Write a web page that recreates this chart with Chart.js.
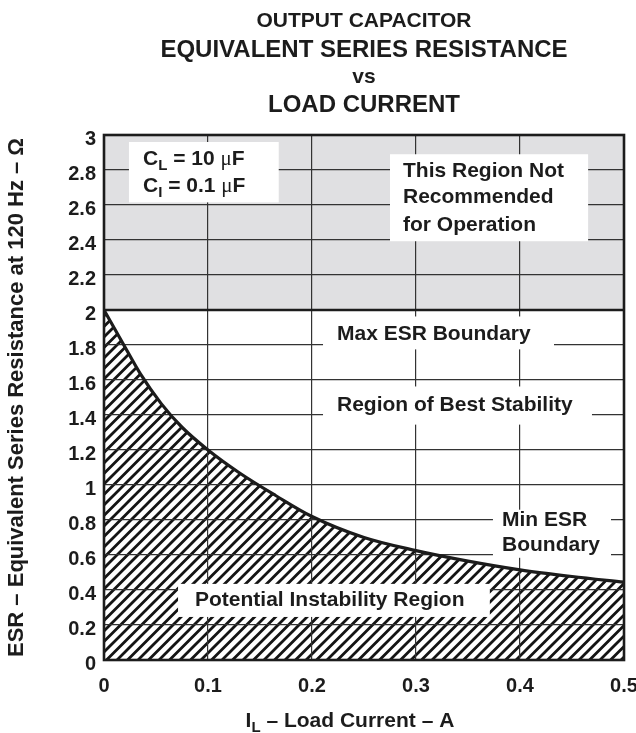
<!DOCTYPE html>
<html><head><meta charset="utf-8">
<script src="https://cdn.jsdelivr.net/npm/chart.js@4.4.0/dist/chart.umd.min.js"></script>
<style>html,body{margin:0;padding:0;background:#fff;}#wrap{width:636px;height:733px;}</style>
</head><body><div id="wrap"><canvas id="c" width="636" height="733"></canvas></div>
<script>
// ---- data ----
const loadCurrent = [0, 0.02, 0.035, 0.055, 0.075, 0.1, 0.13, 0.165, 0.2, 0.25, 0.3, 0.35, 0.4, 0.45, 0.5];
const minEsr      = [2.0, 1.79, 1.635, 1.465, 1.33, 1.20, 1.07, 0.94, 0.82, 0.70, 0.625, 0.565, 0.515, 0.477, 0.445];
const maxEsrBoundary = 2;
const esrAxisMax = 3;
const currentAxisMax = 0.5;
const xTickLabels = ['0', '0.1', '0.2', '0.3', '0.4', '0.5'];
const yTickLabels = ['0', '0.2', '0.4', '0.6', '0.8', '1', '1.2', '1.4', '1.6', '1.8', '2', '2.2', '2.4', '2.6', '2.8', '3'];
const titleLines = ['OUTPUT CAPACITOR', 'EQUIVALENT SERIES RESISTANCE', 'vs', 'LOAD CURRENT'];
const yAxisTitle = 'ESR – Equivalent Series Resistance at 120 Hz – Ω';
const xAxisTitleMain = 'I';
const xAxisTitleSub = 'L';
const xAxisTitleRest = ' – Load Current – A';
const notRecommendedLines = ['This Region Not', 'Recommended', 'for Operation'];
const maxEsrLabel = 'Max ESR Boundary';
const bestStabilityLabel = 'Region of Best Stability';
const minEsrLines = ['Min ESR', 'Boundary'];
const instabilityLabel = 'Potential Instability Region';
const capLines = [['C', 'L', ' = 10 ', 'μ', 'F'], ['C', 'I', ' = 0.1 ', 'μ', 'F']];

// ---- styles ----
const FAM = '"Liberation Sans", Arial, Helvetica, sans-serif';
const INK = '#1c1c1c';

function hatchPattern() {
  const T = 21;
  const c = document.createElement('canvas');
  c.width = T; c.height = T;
  const g = c.getContext('2d');
  g.strokeStyle = '#141414';
  g.lineWidth = 2.8;
  g.beginPath();
  for (const k of [0, 10.5, 21, 31.5, 42]) {
    g.moveTo(k + 3, -3);
    g.lineTo(-3, k + 3);
  }
  g.stroke();
  return g.createPattern(c, 'repeat');
}

function rich(ctx, segs, x, y) {
  let cx = x;
  for (const s of segs) {
    ctx.font = s.font;
    ctx.fillText(s.t, cx, y + (s.dy || 0));
    cx += ctx.measureText(s.t).width;
  }
  return cx - x;
}
function richWidth(ctx, segs) {
  let w = 0;
  for (const s of segs) { ctx.font = s.font; w += ctx.measureText(s.t).width; }
  return w;
}

const B = sz => `bold ${sz}px ${FAM}`;

const overlay = {
  id: 'overlay',
  afterDraw(chart) {
    const ctx = chart.ctx;
    const xs = chart.scales.x, ys = chart.scales.y;
    const px = v => xs.getPixelForValue(v), py = v => ys.getPixelForValue(v);
    const ca = chart.chartArea;
    ctx.save();
    // title
    ctx.fillStyle = INK;
    ctx.textAlign = 'center';
    ctx.textBaseline = 'alphabetic';
    const cx = (ca.left + ca.right) / 2;
    const tSizes = [21, 24, 21, 24];
    const tBase = [27, 57, 83, 112];
    titleLines.forEach((t, i) => { ctx.font = B(tSizes[i]); ctx.fillText(t, cx, tBase[i]); });

    // x axis title
    ctx.textAlign = 'left';
    const xt = [
      {t: xAxisTitleMain, font: B(21)},
      {t: xAxisTitleSub, font: B(15), dy: 5},
      {t: xAxisTitleRest, font: B(21)}
    ];
    const xw = richWidth(ctx, xt);
    rich(ctx, xt, px(0.2365) - xw / 2, 727);

    function box(x0, y0, x1, y1) {
      ctx.fillStyle = '#fff';
      const a = px(x0), b = py(y0), c = px(x1), d = py(y1);
      ctx.fillRect(a, b, c - a, d - b);
      ctx.fillStyle = INK;
    }
    const base = v => py(v) + 7.5;

    // C_L / C_I box
    box(0.024, 2.96, 0.168, 2.615);
    capLines.forEach((ln, i) => {
      const y = [py(2.873), py(2.719)][i] + 7.5;
      rich(ctx, [
        {t: ln[0], font: B(21)},
        {t: ln[1], font: B(15), dy: 5},
        {t: ln[2], font: B(21)},
        {t: ln[3], font: `21px "Liberation Serif", "Times New Roman", serif`},
        {t: ln[4], font: B(21)}
      ], px(0.0375), y);
    });

    // not recommended box
    box(0.275, 2.89, 0.4655, 2.393);
    ctx.font = B(21);
    [2.805, 2.652, 2.495].forEach((v, i) => ctx.fillText(notRecommendedLines[i], px(0.2875), base(v)));

    // max ESR boundary
    box(0.2106, 1.963, 0.4327, 1.775);
    ctx.fillText(maxEsrLabel, px(0.224), base(1.872));

    // region of best stability
    box(0.2106, 1.563, 0.4692, 1.345);
    ctx.fillText(bestStabilityLabel, px(0.224), base(1.465));

    // min ESR boundary
    box(0.374, 0.859, 0.4875, 0.584);
    ctx.fillText(minEsrLines[0], px(0.3827), base(0.807));
    ctx.fillText(minEsrLines[1], px(0.3827), base(0.664));

    // potential instability region
    box(0.0712, 0.435, 0.371, 0.246);
    ctx.fillText(instabilityLabel, px(0.0875), base(0.349));

    // frame & max ESR boundary line
    ctx.strokeStyle = INK;
    ctx.lineWidth = 2.6;
    ctx.strokeRect(ca.left, ca.top, ca.right - ca.left, ca.bottom - ca.top);
    ctx.beginPath();
    ctx.moveTo(ca.left, py(maxEsrBoundary));
    ctx.lineTo(ca.right, py(maxEsrBoundary));
    ctx.stroke();
    ctx.restore();
  }
};

new Chart(document.getElementById('c'), {
  type: 'line',
  data: {
    datasets: [
      {
        label: 'not recommended',
        data: [{x: 0, y: esrAxisMax}, {x: currentAxisMax, y: esrAxisMax}],
        fill: {value: maxEsrBoundary},
        backgroundColor: '#e0e0e2',
        borderWidth: 0,
        pointRadius: 0
      },
      {
        label: 'min ESR',
        data: loadCurrent.map((x, i) => ({x, y: minEsr[i]})),
        fill: 'origin',
        backgroundColor: hatchPattern(),
        borderColor: INK,
        borderWidth: 3.2,
        pointRadius: 0,
        cubicInterpolationMode: 'monotone'
      }
    ]
  },
  options: {
    responsive: false,
    animation: false,
    devicePixelRatio: 1,
    layout: {padding: {top: 135, right: 12, left: 0, bottom: 0}},
    plugins: {
      legend: {display: false},
      tooltip: {enabled: false},
      filler: {drawTime: 'beforeDraw'}
    },
    scales: {
      x: {
        type: 'linear', min: 0, max: currentAxisMax,
        ticks: {
          stepSize: 0.1, autoSkip: false, maxRotation: 0,
          callback: (v, i) => xTickLabels[i],
          font: {family: FAM, size: 20, weight: 'bold'}, color: INK, padding: 14
        },
        grid: {color: '#333', lineWidth: 1.2, drawTicks: false},
        border: {display: false},
        title: {display: false},
        afterFit(s) { s.height = 73; s.paddingLeft = 0; s.paddingRight = 0; }
      },
      y: {
        type: 'linear', min: 0, max: esrAxisMax,
        ticks: {
          stepSize: 0.2, autoSkip: false, maxTicksLimit: 40,
          callback: (v, i) => yTickLabels[i],
          font: {family: FAM, size: 20, weight: 'bold'}, color: INK, padding: 8,
          labelOffset: 4
        },
        grid: {color: '#333', lineWidth: 1.2, drawTicks: false},
        border: {display: false},
        title: {
          display: true, text: yAxisTitle, color: INK,
          font: {family: FAM, size: 22, weight: 'bold'}, padding: {top: 4, bottom: 0}
        },
        afterFit(s) { s.width = 104; s.paddingTop = 0; s.paddingBottom = 0; }
      }
    }
  },
  plugins: [overlay]
});
</script></body></html>
